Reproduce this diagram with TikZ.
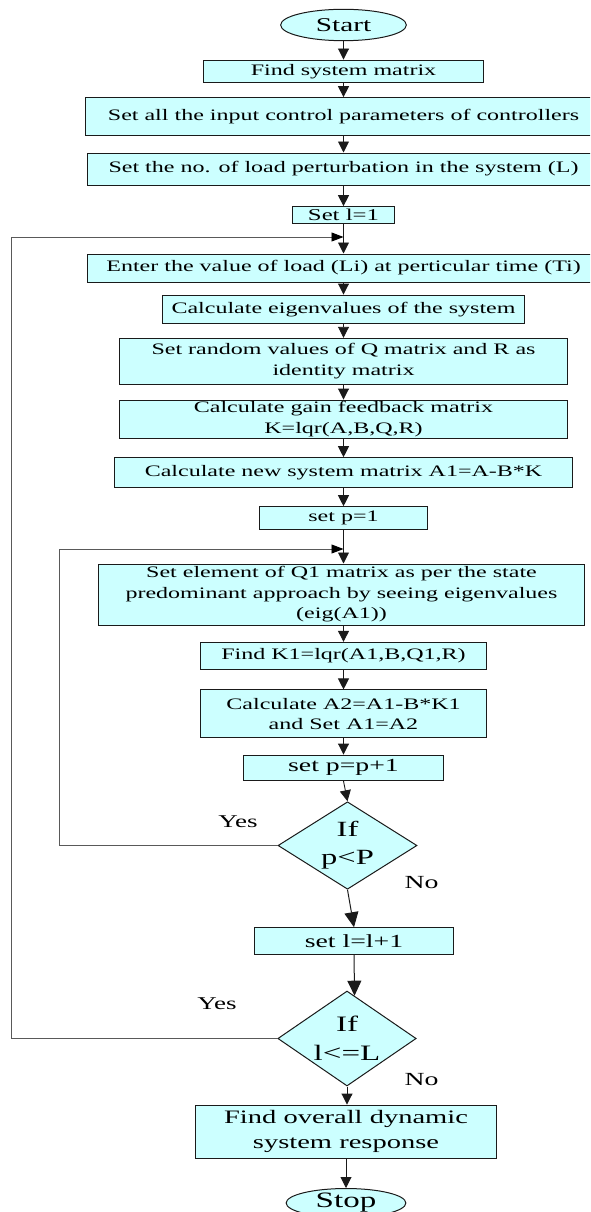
\documentclass[tikz,border=0pt]{standalone}
\usepackage{fontspec}
\setmainfont{Liberation Serif}[FakeStretch=1.5]
\usetikzlibrary{shapes.geometric,arrows.meta,calc}
\definecolor{boxfill}{HTML}{CCFFFF}
\definecolor{edge}{HTML}{1A1A1A}
\begin{document}
\begin{tikzpicture}[x=1pt,y=-1pt,
  box/.style={draw=edge, line width=1pt, fill=boxfill, inner sep=0pt, align=center},
  term/.style={ellipse, draw=edge, line width=1pt, fill=boxfill, inner sep=0pt},
  dec/.style={diamond, aspect=1.6, draw=edge, line width=1pt, fill=boxfill, inner sep=0pt, align=center},
  lbl/.style={inner sep=0pt},
  fa/.style={font=\fontsize{16}{20.5}\selectfont},
  fb/.style={font=\fontsize{18.5}{24}\selectfont},
  fc/.style={font=\fontsize{19}{24.7}\selectfont},
  fd/.style={font=\fontsize{22}{29}\selectfont},
  flow/.style={draw=edge, line width=0.9pt, -{Triangle[length=11pt,width=11pt]}},
  bigflow/.style={draw=edge, line width=1pt, -{Triangle[length=15pt,width=14pt]}},
  back/.style={draw=black!65, line width=0.9pt, -{Triangle[length=12pt,width=9pt,color=black]}},
]
\useasboundingbox (0,0) rectangle (590,1212);
\clip (0,0) rectangle (590,1212);

% process column
\node[term, minimum width=125.7pt, minimum height=31.4pt, font=\fontsize{19.5}{24}\selectfont] (start) at (343.5,25) {Start};
\node[box, fa, minimum width=280.4pt, minimum height=22.3pt] (b1) at (343.5,71.2) {Find system matrix};
\node[box, fa, minimum width=517pt, minimum height=38.3pt] (b2) at (343.5,116.8) {Set all the input control parameters of controllers};
\node[box, fa, minimum width=512pt, minimum height=32pt] (b3) at (343.5,169) {Set the no. of load perturbation in the system (L)};
\node[box, font=\fontsize{16.5}{20}\selectfont, minimum width=101.6pt, minimum height=17.3pt] (b4) at (343.5,215.3) {Set l=1};
\node[box, fa, minimum width=512pt, minimum height=28pt] (b5) at (343.5,268) {Enter the value of load (Li) at perticular time (Ti)};
\node[box, fa, minimum width=361.3pt, minimum height=28.3pt] (b6) at (343.5,309.2) {Calculate eigenvalues of the system};
\node[box, fa, minimum width=447.5pt, minimum height=46pt] (b7) at (343.5,361.3) {Set random values of Q matrix and R as\\identity matrix};
\node[box, fa, minimum width=447.5pt, minimum height=38.3pt] (b8) at (343.5,419.2) {Calculate gain feedback matrix\\K=lqr(A,B,Q,R)};
\node[box, fa, minimum width=458.8pt, minimum height=30pt] (b9) at (343.5,472.7) {Calculate new system matrix A1=A-B*K};
\node[box, fa, minimum width=167.5pt, minimum height=22.6pt] (b10) at (343.5,518) {set p=1};
\node[box, fa, minimum width=485.7pt, minimum height=61pt] (b11) at (341.5,594.5) {Set element of Q1 matrix as per the state\\predominant approach by seeing eigenvalues\\(eig(A1))};
\node[box, fa, minimum width=285.7pt, minimum height=26.7pt] (b12) at (343.5,655.7) {Find K1=lqr(A1,B,Q1,R)};
\node[box, fa, minimum width=285.7pt, minimum height=47.7pt] (b13) at (343.5,713.8) {Calculate A2=A1-B*K1\\and Set A1=A2};
\node[box, fb, minimum width=200pt, minimum height=25.5pt] (b14) at (343.5,767.8) {set p=p+1};
\node[dec, font=\fontsize{21.7}{28.3}\selectfont, minimum width=139pt, minimum height=87.5pt] (d1) at (347.5,845.5) {If\\p<P};
\node[box, fb, minimum width=199pt, minimum height=26.6pt] (b15) at (354,941) {set l=l+1};
\node[dec, font=\fontsize{22}{29.4}\selectfont, minimum width=134.4pt, minimum height=95pt] (d2) at (347,1038.5) {If\\l<=L};
\node[box, fc, minimum width=301.8pt, minimum height=53.3pt] (b16) at (346,1131.7) {Find overall dynamic\\system response};
\node[term, fd, minimum width=119.7pt, minimum height=29pt] (stop) at (346,1203) {Stop};

% branch labels
\node[lbl, font=\fontsize{18}{22}\selectfont] (yes1) at (238,821.7) {Yes};
\node[lbl, fb] (no1) at (421.5,882.7) {No};
\node[lbl, font=\fontsize{18}{22}\selectfont] (yes2) at (217,1003.3) {Yes};
\node[lbl, fb] (no2) at (421.5,1080) {No};

% junctions where the loops rejoin the main line
\coordinate (j1) at (b4.south |- 0,237);
\coordinate (j2) at (b10.south |- 0,549);

% main flow
\draw[flow] (start.south) -- (b1.north);
\draw[flow] (b1.south) -- (b2.north);
\draw[flow] (b2.south) -- (b3.north);
\draw[flow] (b3.south) -- (b4.north);
\draw[flow] (b4.south) -- (b5.north);
\draw[flow] (b5.south) -- (b6.north);
\draw[flow] (b6.south) -- (b7.north);
\draw[flow] (b7.south) -- (b8.north);
\draw[flow] (b8.south) -- (b9.north);
\draw[flow] (b9.south) -- (b10.north);
\draw[flow] (b10.south) -- (b10.south |- b11.north);
\draw[flow] (b11.south -| b12.north) -- (b12.north);
\draw[flow] (b12.south) -- (b13.north);
\draw[flow] (b13.south) -- (b14.north);
\draw[flow] (b14.south) -- (d1.north);
\draw[bigflow] (d1.south) -- (b15.north);
\draw[bigflow] (b15.south) -- (d2.80);
\draw[flow] (d2.south) -- (d2.south |- b16.north);
\draw[flow] (b16.south) -- (stop.north);

% loops back
\draw[back] (d1.west) -- ++(-217.8,0) |- (j2);
\draw[back] (d2.west) -- ++(-265.5,0) |- (j1);
\end{tikzpicture}
\end{document}
